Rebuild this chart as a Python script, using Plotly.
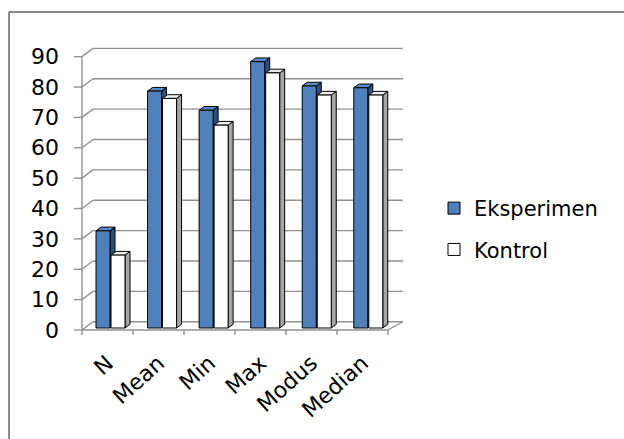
import plotly.graph_objects as go

# ---------------- data ----------------
categories = ["N", "Mean", "Min", "Max", "Modus", "Median"]
eksperimen = [32, 78, 71.7, 87.7, 79.7, 79.1]
kontrol = [24, 75.6, 66.8, 84, 76.7, 76.7]
y_ticks = [0, 10, 20, 30, 40, 50, 60, 70, 80, 90]

# ---------------- geometry (pixels) ----------------
W, H = 624, 439
PL, PR, PT, PB = 72, 406, 44, 337      # plot area
X0_PX, Y0_PX = 82, 330                 # front plane: x=-0.5 and y=0
PX_PER_CAT = 51.0
PX_PER_UNIT = 3.037


def du(px):
    return px / PX_PER_CAT


def dv(py):
    return py / PX_PER_UNIT


x_range = [-0.5 - du(X0_PX - PL), -0.5 + du(PR - X0_PX)]
y_range = [-dv(PB - Y0_PX), dv(Y0_PX - PT)]

WALL_DX, WALL_DY = du(11), dv(8.3)
U_RIGHT = 5.5 + du(15)
FACE_DX, FACE_DY = du(3), dv(2)
SPREAD = 1.011
BAR_W = du(14)
HALF_SEP = du(7.5)
BAR_DX, BAR_DY = du(5), dv(3.7)

GRID = "#929292"
FONT = "DejaVu Sans"

shapes = []


def line(x0, y0, x1, y1, color=GRID, width=1.4):
    shapes.append(dict(type="line", xref="x", yref="y", x0=x0, y0=y0, x1=x1, y1=y1,
                       line=dict(color=color, width=width), layer="below"))


# back wall gridlines, side-wall diagonals and tick marks
for t in y_ticks:
    line(-0.5 - du(8), t, -0.5, t)
    line(-0.5, t, -0.5 + WALL_DX, t + WALL_DY)
    line(-0.5 + WALL_DX, t + WALL_DY, U_RIGHT, t + WALL_DY)
# front vertical axis
line(-0.5, 0, -0.5, y_ticks[-1])
# floor front edge and right diagonal
line(-0.5, 0, 5.5, 0)
line(5.5, 0, U_RIGHT, WALL_DY)
# category boundary ticks
for k in range(len(categories) + 1):
    line(-0.5 + k, 0, -0.5 + k, -dv(5))

series = [
    ("Eksperimen", eksperimen, -1, "#4f81bd", "#5a8cc8", "#2c4f7c"),
    ("Kontrol", kontrol, 1, "#ffffff", "#eeeeee", "#a6a6a6"),
]

fig = go.Figure()
for gi, (name, vals, sgn, front, top, side) in enumerate(series):
    xs = [FACE_DX + i * SPREAD + sgn * HALF_SEP for i in range(len(categories))]
    fig.add_trace(go.Bar(
        x=xs, y=vals, base=FACE_DY, width=BAR_W, name=name,
        legendgroup=f"g{gi}",
        marker=dict(color=front, line=dict(color="#000000", width=1)),
        hovertext=categories, hoverinfo="text+y",
    ))
    for xc, v in zip(xs, vals):
        x0, x1 = xc - BAR_W / 2, xc + BAR_W / 2
        y0, y1 = FACE_DY, FACE_DY + v
        # side face
        shapes.append(dict(
            type="path", xref="x", yref="y", layer="below",
            path=f"M{x1},{y0} L{x1},{y1} L{x1 + BAR_DX},{y1 + BAR_DY} L{x1 + BAR_DX},{y0 + BAR_DY} Z",
            fillcolor=side, line=dict(color="#000000", width=1)))
        # top face
        shapes.append(dict(
            type="path", xref="x", yref="y", layer="below",
            path=f"M{x0},{y1} L{x1},{y1} L{x1 + BAR_DX},{y1 + BAR_DY} L{x0 + BAR_DX},{y1 + BAR_DY} Z",
            fillcolor=top, line=dict(color="#000000", width=1)))


# outer chart border (top and left edges visible)
def px_to_paper_x(px):
    return (px - PL) / (PR - PL)


def px_to_paper_y(py):
    return (PB - py) / (PB - PT)


shapes.append(dict(type="line", xref="paper", yref="paper",
                   x0=px_to_paper_x(9), y0=px_to_paper_y(12), x1=px_to_paper_x(630), y1=px_to_paper_y(12),
                   line=dict(color="#888888", width=2)))
shapes.append(dict(type="line", xref="paper", yref="paper",
                   x0=px_to_paper_x(9), y0=px_to_paper_y(12), x1=px_to_paper_x(9), y1=px_to_paper_y(445),
                   line=dict(color="#888888", width=2)))

fig.update_layout(
    width=W, height=H,
    margin=dict(l=PL, r=W - PR, t=PT, b=H - PB, pad=0),
    paper_bgcolor="white", plot_bgcolor="white",
    font=dict(family=FONT, color="#000000"),
    barmode="overlay",
    showlegend=True,
    legend=dict(
        x=px_to_paper_x(434), xanchor="left",
        y=px_to_paper_y(188), yanchor="top",
        font=dict(family=FONT, size=21, color="#000000"),
        tracegroupgap=11, traceorder="grouped",
        bgcolor="rgba(0,0,0,0)",
    ),
    xaxis=dict(
        range=x_range, showgrid=False, zeroline=False, showline=False,
        tickvals=list(range(len(categories))), ticktext=categories,
        tickangle=-42, ticks="", tickfont=dict(family=FONT, size=22, color="#000000"),
        ticklabelstandoff=8, fixedrange=True,
    ),
    yaxis=dict(
        range=y_range, showgrid=False, zeroline=False, showline=False,
        tickvals=y_ticks, ticks="", tickfont=dict(family=FONT, size=22, color="#000000"),
        ticklabelstandoff=12, fixedrange=True,
    ),
    shapes=shapes,
)

fig.write_html("out.html")
